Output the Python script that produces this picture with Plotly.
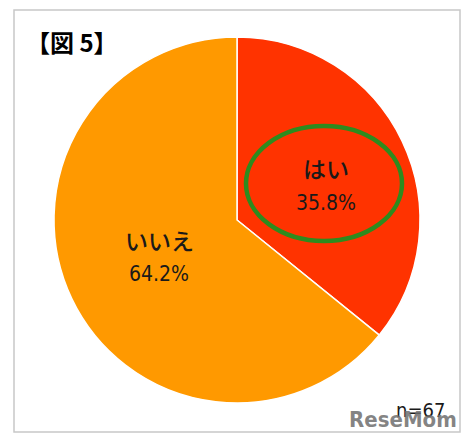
import plotly.graph_objects as go

# ---- data ----
labels = ["はい", "いいえ"]
counts = [24, 43]          # n = 67
colors = ["#FF3300", "#FF9900"]
title_text = "【図 5】"
n_text = "n=67"

W, H = 472, 445
def px(x): return x / W
def py(y): return 1 - y / H

total = sum(counts)
pcts = [c / total for c in counts]

fig = go.Figure(go.Pie(
    labels=labels,
    values=counts,
    sort=False,
    direction="clockwise",
    rotation=0,
    marker=dict(colors=colors, line=dict(color="white", width=1.5)),
    textinfo="none",
    hoverinfo="label+percent",
    showlegend=False,
    domain=dict(x=[px(54), px(420)], y=[py(403), py(37)]),
))

# label positions (layout only)
label_pos = [(326, 168, 203), (159, 240, 274)]
ann = []
for lab, p, (x, yl, yp) in zip(labels, pcts, label_pos):
    ann.append(dict(x=px(x), y=py(yl), xref="paper", yref="paper", text=lab,
                    showarrow=False, xanchor="center", yanchor="middle",
                    font=dict(family="Noto Sans CJK JP", size=23, weight=500, color="#1a1a1a")))
    ann.append(dict(x=px(x), y=py(yp), xref="paper", yref="paper", text=f"{p*100:.1f}%",
                    showarrow=False, xanchor="center", yanchor="middle",
                    font=dict(family="DejaVu Sans Condensed, Noto Sans", size=21, color="#1a1a1a")))

ann.append(dict(x=px(24), y=py(42), xref="paper", yref="paper", text=f"<b>{title_text}</b>",
                showarrow=False, xanchor="left", yanchor="middle",
                font=dict(family="Noto Sans CJK JP", size=24, color="#000000")))
ann.append(dict(x=px(447), y=py(410), xref="paper", yref="paper", text=n_text,
                showarrow=False, xanchor="right", yanchor="middle",
                font=dict(family="DejaVu Sans Condensed, Noto Sans", size=20, color="#1a1a1a")))
ann.append(dict(x=px(459), y=py(419), xref="paper", yref="paper", text="<b>ReseMom</b>",
                showarrow=False, xanchor="right", yanchor="middle",
                font=dict(family="DejaVu Sans Condensed, Roboto", size=22, color="rgba(110,110,110,0.85)")))

shapes = [
    dict(type="rect", xref="paper", yref="paper", x0=px(14), x1=px(460), y0=py(432), y1=py(10),
         line=dict(color="#c8c8c8", width=1.5)),
    dict(type="circle", xref="paper", yref="paper", x0=px(246), x1=px(402), y0=py(241), y1=py(126),
         line=dict(color="#2E8B1E", width=4.5)),
]

fig.update_layout(
    width=W, height=H,
    margin=dict(l=0, r=0, t=0, b=0),
    paper_bgcolor="white", plot_bgcolor="white",
    annotations=ann, shapes=shapes,
)

fig.write_html("out.html", config={"displayModeBar": False},
               post_script="document.body.style.margin='0';document.body.style.padding='0';")
